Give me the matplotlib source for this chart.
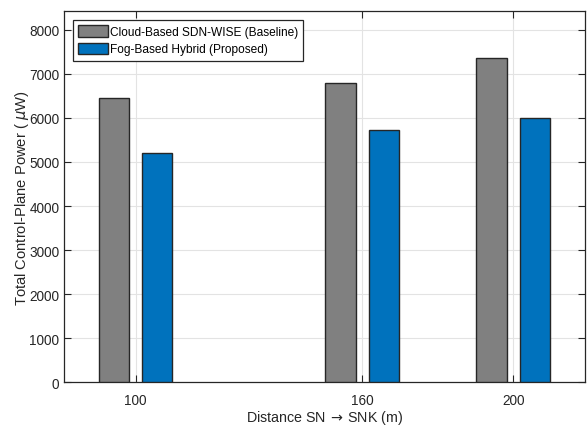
import matplotlib

matplotlib.use("Agg")
import matplotlib.pyplot as plt
import numpy as np

# Control-plane power at each sensor-to-sink distance
distances = [100, 160, 200]
cloud_power = [6450, 6800, 7350]
fog_power = [5200, 5730, 6000]
series_labels = ["Cloud-Based SDN-WISE (Baseline)", "Fog-Based Hybrid (Proposed)"]
y_ticks = list(range(0, 8001, 1000))

GRAY = "#808080"
BLUE = "#0072BD"
EDGE = "#262626"

plt.rcParams.update(
    {
        "font.family": ["Liberation Sans", "DejaVu Sans"],
        "font.size": 9.8,
        "mathtext.fontset": "dejavusans",
        "axes.edgecolor": EDGE,
        "axes.linewidth": 0.9,
        "xtick.color": EDGE,
        "ytick.color": EDGE,
        "xtick.direction": "in",
        "ytick.direction": "in",
        "xtick.top": True,
        "ytick.right": True,
        "xtick.major.size": 5,
        "ytick.major.size": 5,
        "xtick.major.width": 0.8,
        "ytick.major.width": 0.8,
        "xtick.major.pad": 8,
    }
)

fig = plt.figure(figsize=(5.87, 4.27), dpi=100)
ax = fig.add_axes([0.1095, 0.1023, 0.9971 - 0.1095, 0.9712 - 0.1023])

x = np.array(distances, dtype=float)
offset, width = 5.75, 8.0
ax.bar(x - offset, cloud_power, width, color=GRAY, edgecolor=EDGE, linewidth=1.0,
       label=series_labels[0], zorder=3)
ax.bar(x + offset, fog_power, width, color=BLUE, edgecolor=EDGE, linewidth=1.0,
       label=series_labels[1], zorder=3)

ax.set_xlim(81.1, 219.1)
ax.set_ylim(0, 8420)
ax.set_xticks(distances)
ax.set_yticks(y_ticks)
ax.grid(True, color="#e3e3e3", linewidth=0.8, zorder=0)
ax.set_axisbelow(True)

ax.set_xlabel(r"Distance SN$\,\rightarrow\,$SNK (m)", color=EDGE, fontsize=10.3,
              labelpad=0.5)
ax.set_ylabel(r"Total Control-Plane Power ( $\mu$W)", color=EDGE, fontsize=10.6,
              labelpad=-1)

leg = ax.legend(loc="upper left", fontsize=8.6, frameon=True, fancybox=False,
                edgecolor=EDGE, framealpha=1.0, borderpad=0.45, labelspacing=0.4,
                handlelength=2.5, handleheight=1.1, handletextpad=0.15,
                borderaxespad=0.7)
leg.get_frame().set_linewidth(0.9)

fig.savefig("out.png", dpi=100)
